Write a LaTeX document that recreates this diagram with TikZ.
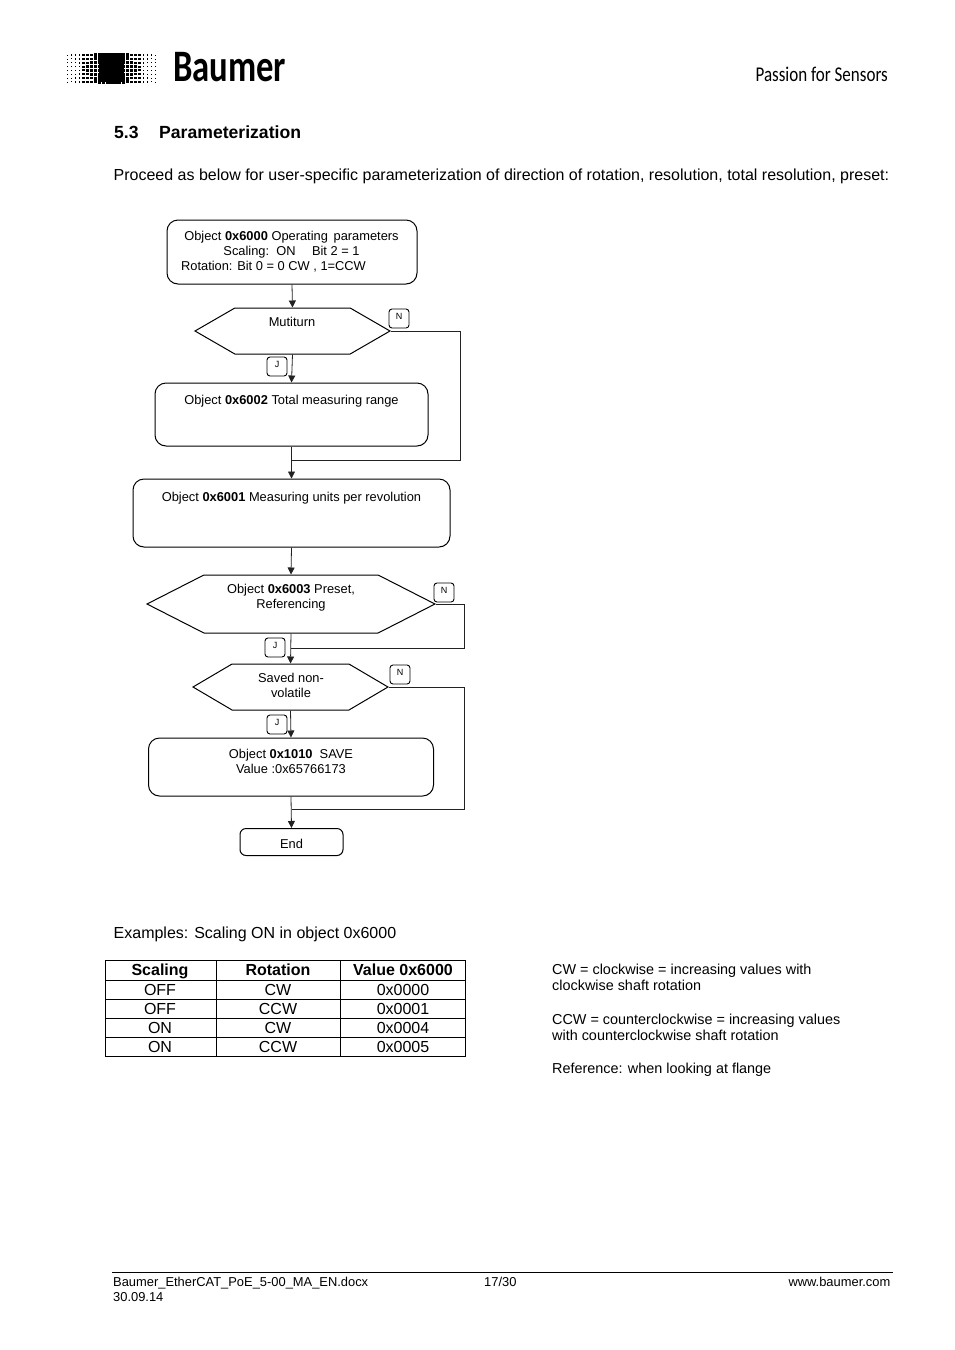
\documentclass[tikz,border=0pt]{standalone}
\usepackage{fontspec}
\setmainfont{Liberation Sans}
\newfontfamily\logofont{Carlito}
\usepackage{xcolor}
\usepackage{tikz}
\usetikzlibrary{positioning, arrows.meta, calc, shapes.symbols}
\definecolor{flowline}{HTML}{222222}
\tikzset{
  flowbox/.style={draw=black, line width=1pt, rounded corners=11pt, inner sep=0pt},
  flowhex/.style={draw=black, line width=1pt, signal, signal to=east and west, inner sep=0pt},
  flowtag/.style={draw=black, line width=0.9pt, rounded corners=3pt, minimum width=20pt, minimum height=19pt, inner sep=0pt},
  tagtext/.style={font=\fontsize{9}{10}\selectfont},
  flowtext/.style={font=\fontsize{12.85}{15}\selectfont, align=center, inner sep=0pt},
  bodytext/.style={font=\fontsize{16}{19}\selectfont, anchor=base west, inner sep=0pt},
  smalltext/.style={font=\fontsize{14.4}{16.3}\selectfont, anchor=base west, inner sep=0pt},
  celltext/.style={font=\fontsize{16}{19}\selectfont, inner sep=0pt, anchor=base},
  headtext/.style={font=\bfseries\fontsize{16}{19}\selectfont, inner sep=0pt, anchor=base},
  foottext/.style={font=\fontsize{12.9}{15}\selectfont, inner sep=0pt},
  flowarrow/.style={draw=flowline, line width=0.8pt, -{Triangle[length=7pt,width=7pt]}},
  flowjoin/.style={draw=flowline, line width=0.8pt}
}
\begin{document}
\begin{tikzpicture}[x=1pt, y=-1pt]
  \useasboundingbox (0,0) rectangle (954,1350);
  % logo
  \foreach \col in {0,...,11}
    \foreach \row in {0,...,7} {
      \pgfmathsetmacro{\d}{0.7+\col*0.33}
      \pgfmathtruncatemacro{\v}{35+\col*6}
      \fill[black!\v!black] (67.5+\col*4-\d/2, 55+\row*3.85-\d/2) rectangle ++(\d,\d);
      \fill[black!\v!black] (155.5-\col*4-\d/2, 55+\row*3.85-\d/2) rectangle ++(\d,\d);
    }
  \fill[black] (99,53) rectangle (110,82);
  \fill[black] (113.5,53) rectangle (124,82);
  \node[font=\logofont\bfseries\fontsize{45}{45}\selectfont, anchor=base west, inner sep=0pt, xscale=0.77] (logoname) at (173,81.5) {Baumer};
  \node[font=\logofont\fontsize{21}{21}\selectfont, anchor=base east, inner sep=0pt, xscale=0.81] (claim) at (888,81) {Passion for Sensors};

  % heading
  \node[font=\bfseries\fontsize{17.6}{20}\selectfont, anchor=base west, inner sep=0pt] (secnum) at (114,138) {5.3};
  \node[font=\bfseries\fontsize{17.6}{20}\selectfont, anchor=base west, inner sep=0pt] (sectitle) at (159,138) {Parameterization};
  \node[bodytext] (intro) at (113.5,180) {Proceed as below for user-specific parameterization of direction of rotation, resolution, total resolution, preset:};

  % flow chart
  \node[flowbox, minimum width=250pt, minimum height=64pt] (opbox) at (292,252) {};
  \node[flowtext, anchor=north] (optext) at (291.5,231) {Object \textbf{0x6000} Operating\,\ parameters\\Scaling:\ \ ON\quad\ Bit 2 = 1\\Rotation: Bit 0 = 0 CW , 1=CCW\hspace*{36pt}};
  \node[flowhex, minimum width=195pt, minimum height=46pt, signal pointer angle=60] (multihex) at (292.5,331) {};
  \node[flowtext] (multitext) at (292,322) {Mutiturn};
  \node[flowbox, minimum width=273pt, minimum height=63pt] (rangebox) at (291.5,414.5) {};
  \node[flowtext] (rangetext) at (291.5,401.5) {Object \textbf{0x6002} Total measuring range};
  \node[flowbox, minimum width=317pt, minimum height=68pt] (unitsbox) at (291.5,513) {};
  \node[flowtext] (unitstext) at (291.5,498.5) {Object \textbf{0x6001} Measuring units per revolution};
  \node[flowhex, minimum width=288pt, minimum height=58pt, signal pointer angle=54] (presethex) at (291,604) {};
  \node[flowtext] (presettext) at (291,598) {Object \textbf{0x6003} Preset,\\Referencing};
  \node[flowhex, minimum width=195pt, minimum height=46pt, signal pointer angle=61] (savedhex) at (290.5,687) {};
  \node[flowtext] (savedtext) at (291,685) {Saved non-\\volatile};
  \node[flowbox, minimum width=285pt, minimum height=58pt] (savebox) at (291,767) {};
  \node[flowtext] (savetext) at (291,761) {Object \textbf{0x1010}\ \ SAVE\\Value :0x65766173};
  \node[flowbox, rounded corners=6pt, minimum width=103pt, minimum height=27pt] (endbox) at (291.5,842) {};
  \node[flowtext] (endtext) at (291.5,843.5) {End};

  % yes and no tags
  \node[flowtag] (tagn) at (399,318.5) {};
  \node[tagtext] at (399,316) {N};
  \node[flowtag] (tagj) at (277,366.5) {};
  \node[tagtext] at (277,364) {J};
  \node[flowtag] (tagpn) at (444,592.5) {};
  \node[tagtext] at (444,590) {N};
  \node[flowtag] (tagpj) at (275,647.5) {};
  \node[tagtext] at (275,645) {J};
  \node[flowtag] (tagsn) at (400,674.5) {};
  \node[tagtext] at (400,672) {N};
  \node[flowtag] (tagsj) at (277,724.5) {};
  \node[tagtext] at (277,722) {J};

  % connectors
  \coordinate (joinrange) at (291.5,460.5);
  \coordinate (bendrange) at (460.5,460.5);
  \coordinate (joinpreset) at (291,648.5);
  \coordinate (bendpreset) at (464.5,648.5);
  \coordinate (joinsave) at (291.5,809.5);
  \coordinate (bendsave) at (464.5,809.5);
  \draw[flowarrow] (opbox.south) -- (multihex.north);
  \draw[flowarrow] (multihex.south) -- (rangebox.north);
  \draw[flowjoin] (multihex.east) -| (bendrange) -- (joinrange);
  \draw[flowarrow] (rangebox.south) -- (unitsbox.north);
  \draw[flowarrow] (unitsbox.south) -- (presethex.north);
  \draw[flowarrow] (presethex.south) -- (savedhex.north);
  \draw[flowjoin] (presethex.east) -| (bendpreset) -- (joinpreset);
  \draw[flowarrow] (savedhex.south) -- (savebox.north);
  \draw[flowjoin] (savedhex.east) -| (bendsave) -- (joinsave);
  \draw[flowarrow] (savebox.south) -- (endbox.north);

  % table
  \node[bodytext] (examples) at (113.5,938) {Examples: Scaling ON in object 0x6000};
  \draw[black, line width=0.9pt] (105.5,960.5) rectangle (465.5,1056.5);
  \foreach \yy in {980.5,999.5,1018.5,1037.5}
    \draw[black, line width=0.9pt] (105.5,\yy) -- (465.5,\yy);
  \foreach \xx in {216.5,340.5}
    \draw[black, line width=0.9pt] (\xx,960.5) -- (\xx,1056.5);
  \node[headtext] at (160,975) {Scaling};
  \node[headtext] at (278,975) {Rotation};
  \node[headtext] at (403,975) {Value 0x6000};
  \foreach \scal/\rot/\val [count=\i from 0] in {OFF/CW/0x0000, OFF/CCW/0x0001, ON/CW/0x0004, ON/CCW/0x0005} {
    \node[celltext] at (160,995+\i*19) {\scal};
    \node[celltext] at (278,995+\i*19) {\rot};
    \node[celltext] at (403,995+\i*19) {\val};
  }

  % notes
  \node[smalltext] (cwa) at (552,974) {CW = clockwise = increasing values with};
  \node[smalltext] (cwb) at (552,990) {clockwise shaft rotation};
  \node[smalltext] (ccwa) at (552,1024) {CCW = counterclockwise = increasing values};
  \node[smalltext] (ccwb) at (552,1040.5) {with counterclockwise shaft rotation};
  \node[smalltext] (refnote) at (552,1073) {Reference: when looking at flange};

  % footer
  \draw[black, line width=0.8pt] (112,1272.5) -- (893,1272.5);
  \node[foottext, anchor=base west] (docname) at (113,1286) {Baumer\_EtherCAT\_PoE\_5-00\_MA\_EN.docx};
  \node[foottext, anchor=base west] (docdate) at (113,1301) {30.09.14};
  \node[foottext, anchor=base west] (pageno) at (484,1286) {17/30};
  \node[foottext, anchor=base east] (website) at (890.5,1286) {www.baumer.com};
\end{tikzpicture}
\end{document}
